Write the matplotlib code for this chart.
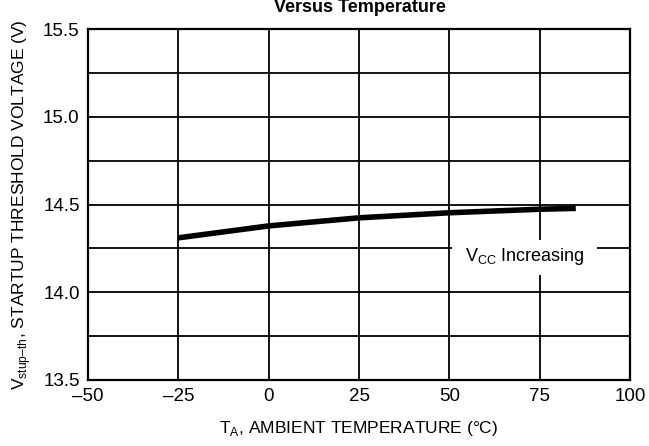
import matplotlib
matplotlib.use("Agg")
import matplotlib.pyplot as plt
from matplotlib.patches import Rectangle

# --- Data ---
temp_c = [-25, 0, 25, 50, 75, 85]
v_startup = [14.31, 14.378, 14.424, 14.453, 14.473, 14.478]

x_ticks = [-50, -25, 0, 25, 50, 75, 100]
x_tick_labels = ["–50", "–25", "0", "25", "50", "75", "100"]
y_ticks = [13.5, 14.0, 14.5, 15.0, 15.5]
y_tick_labels = ["13.5", "14.0", "14.5", "15.0", "15.5"]

plt.rcParams["font.family"] = ["Liberation Sans Narrow", "Liberation Sans", "DejaVu Sans"]
plt.rcParams["mathtext.fontset"] = "custom"
plt.rcParams["mathtext.rm"] = "Liberation Sans"

fig = plt.figure(figsize=(6.49, 4.46), dpi=100)
ax = fig.add_axes([88 / 649, 1 - 380 / 446, 542 / 649, 351 / 446])

# grid
for gx in range(-25, 100, 25):
    ax.axvline(gx, color="black", linewidth=1.3, zorder=1)
for gy in [13.75, 14.0, 14.25, 14.5, 14.75, 15.0, 15.25]:
    ax.axhline(gy, color="black", linewidth=1.3, zorder=1)

ax.plot(temp_c, v_startup, color="black", linewidth=4.0, solid_capstyle="butt", zorder=3)

# label box that blanks the grid behind it
ax.add_patch(Rectangle((50.7, 14.1), 40.2, 0.199, facecolor="white",
                       edgecolor="none", zorder=2))
ax.text(71.0, 14.205, r"V$_{\mathregular{CC}}$ Increasing", fontsize=13,
        ha="center", va="center", zorder=2.5)

ax.set_xlim(-50, 100)
ax.set_ylim(13.5, 15.5)
ax.set_xticks(x_ticks)
ax.set_xticklabels(x_tick_labels)
ax.set_yticks(y_ticks)
ax.set_yticklabels(y_tick_labels)
ax.tick_params(length=0, labelsize=13.5, pad=6)
for sp in ax.spines.values():
    sp.set_linewidth(1.6)

ax.set_xlabel(r"T$_{\mathregular{A}}$, AMBIENT TEMPERATURE (°C)", fontsize=12.5, labelpad=10)
ax.set_ylabel(r"V$_{\mathregular{stup–th}}$, STARTUP THRESHOLD VOLTAGE (V)", fontsize=12.5, labelpad=7)

# title is partly cut off at the top edge, as in the reference
fig.text(0.555, 1 - 12 / 446, "Versus Temperature", fontsize=13, fontweight="bold",
         ha="center", va="baseline")

plt.savefig("out.png", dpi=100)
